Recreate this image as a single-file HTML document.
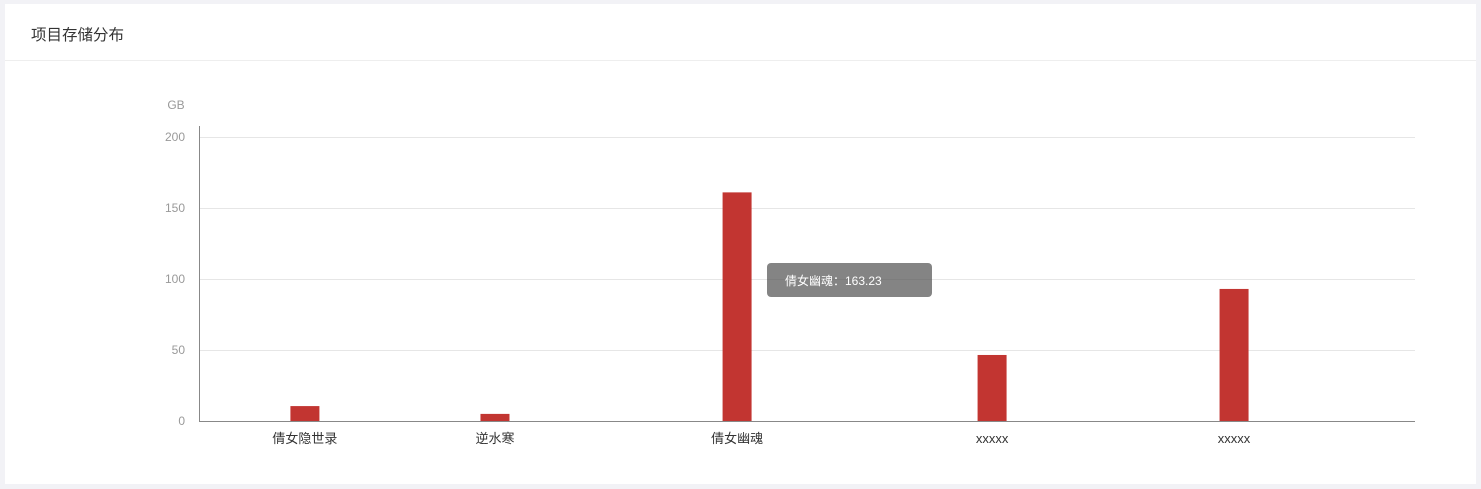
<!DOCTYPE html>
<html><head><meta charset="utf-8"><style>
body{margin:0;width:1481px;height:489px;background:#f2f2f6;font-family:"Liberation Sans","Noto Sans CJK SC",sans-serif;overflow:hidden}
#card{position:absolute;left:5px;top:4px;width:1471px;height:480px;background:#fff}
#title{position:absolute;left:26px;top:19px;font-size:15.5px;color:#333}
#sep{position:absolute;left:0;top:56px;width:1471px;height:1px;background:#eeeeee}
svg{position:absolute;left:0;top:0}
</style></head><body>
<div id="card">
<div id="title">项目存储分布</div>
<div id="sep"></div>
</div>
<svg id="chart" width="1481" height="489"></svg>
<script>
const categories=["倩女隐世录","逆水寒","倩女幽魂","xxxxx","xxxxx"];
const values=[10.5,5,161,46.5,93];
const yTicks=[0,50,100,150,200];
const tooltipText="倩女幽魂：163.23";
// layout (not data): relative slot centers along x axis
const slotFrac=[0.0871,0.2434,0.4425,0.6522,0.8512];
const NS="http://www.w3.org/2000/svg";
const svg=document.getElementById('chart');
const X0=199,X1=1415,Y0=421,Y1=137,YMAX=200,BW=29;
const y=v=>Y0-(v/YMAX)*(Y0-Y1);
const x=i=>X0+slotFrac[i]*(X1-X0);
function mk(t,a,txt){const e=document.createElementNS(NS,t);for(const k in a)e.setAttribute(k,a[k]);if(txt!=null)e.textContent=txt;svg.appendChild(e);return e;}
yTicks.forEach(t=>{
 if(t>0){const g=mk('line',{x1:X0,x2:X1,y1:y(t)+0.5,y2:y(t)+0.5,stroke:'#e6e6e6','stroke-width':1});
 
 }
 const l=mk('text',{x:185,y:y(t)+4,'text-anchor':'end','font-size':12,fill:'#999'},t);
 
 
});
const u=mk('text',{x:176,y:109,'text-anchor':'middle','font-size':12,fill:'#999'},'GB');


const ya=mk('line',{x1:X0+0.5,x2:X0+0.5,y1:126,y2:Y0,stroke:'#888','stroke-width':1});


values.forEach((v,i)=>{
 const b=mk('rect',{x:x(i)-BW/2,y:y(v),width:BW,height:Y0-y(v),fill:'#c23531'});
 
 
 const l=mk('text',{x:x(i),y:443,'text-anchor':'middle','font-size':13,fill:'#333'},categories[i]);
 
 
});
const xa=mk('line',{x1:X0,x2:X1,y1:Y0+0.5,y2:Y0+0.5,stroke:'#888','stroke-width':1});


const tb=mk('rect',{x:767,y:263,width:165,height:34,rx:4,fill:'rgba(80,80,80,0.7)'});


const tt=mk('text',{x:785,y:285,'font-size':12,fill:'#fff'},tooltipText);


</script>
</body></html>
